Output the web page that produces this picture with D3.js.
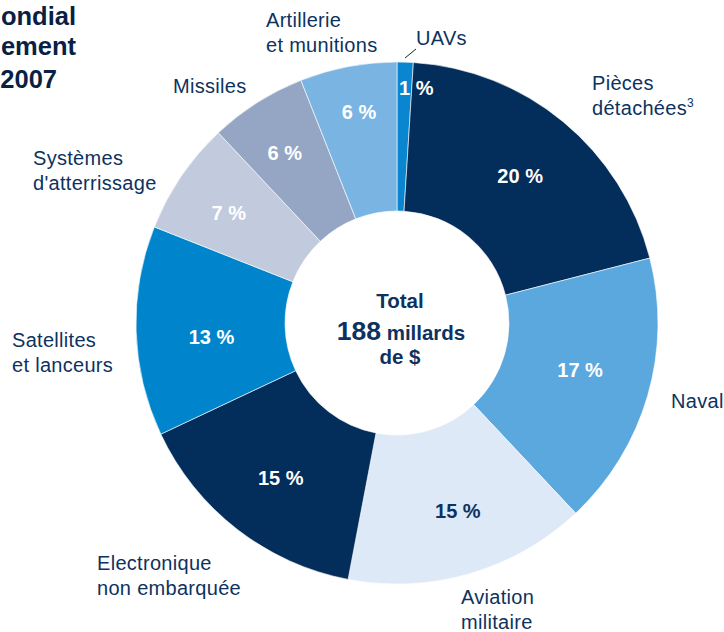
<!DOCTYPE html>
<html>
<head>
<meta charset="utf-8">
<script src="https://cdn.jsdelivr.net/npm/d3@7"></script>
<style>
  body { margin: 0; background: #fff; }
  svg { display: block; font-family: "Liberation Sans", Arial, sans-serif; }
</style>
</head>
<body>
<script>
// slices, clockwise from the top
const categories = ["UAVs", "Pièces détachées", "Naval", "Aviation militaire", "Electronique non embarquée",
  "Satellites et lanceurs", "Systèmes d'atterrissage", "Missiles", "Artillerie et munitions"];
const shares = [1, 20, 17, 15, 15, 13, 7, 6, 6];
const colors = ["#0a86d0", "#032d5a", "#5ba8df", "#dde9f6", "#032d5a", "#0085cc", "#c1cbdd", "#94a6c3", "#79b4e3"];
// outside labels (lines of text)
const labelLines = [
  ["UAVs"], ["Pièces", "détachées"], ["Naval"], ["Aviation", "militaire"], ["Electronique", "non embarquée"],
  ["Satellites", "et lanceurs"], ["Systèmes", "d'atterrissage"], ["Missiles"], ["Artillerie", "et munitions"]
];
const titleLines = ["ondial", "ement", "2007"];

// layout
const labelPos = [[416, 45], [592, 90], [671, 408], [461, 604], [97, 570], [12, 347], [33, 165], [173, 93], [266, 27]];
const pctRadius = [0, 192, 189, 198, 194, 186, 201, 204, 214];
const pctShift = [0, 0.3, -1.8, -1.7, -1, -2.5, -1, -1, 0.6]; // degrees
const pctColor = ["#fff", "#fff", "#fff", "#0d3260", "#fff", "#fff", "#fff", "#fff", "#fff"];

const width = 724, height = 632;
const cx = 397, cy = 323, outerR = 261, innerR = 112;
const navy = "#0d3260";

let svg = d3.select("body").append("svg")
  .attr("width", width)
  .attr("height", height);

// cut-off title at top-left
svg.selectAll("text.title")
  .data(titleLines)
  .enter().append("text")
  .attr("class", "title")
  .attr("x", (d, i) => i < 2 ? 76 : 57)
  .attr("y", (d, i) => [25, 55, 88][i])
  .attr("text-anchor", "end")
  .style("font-size", "25.5px")
  .style("font-weight", "bold")
  .style("fill", "#0a1f44")
  .text(d => d);

const data = categories.map((c, i) => ({ name: c, value: shares[i], color: colors[i] }));

const pie = d3.pie().value(d => d.value).sort(null);
const arc = d3.arc().innerRadius(innerR).outerRadius(outerR);

let g = svg.append("g").attr("transform", `translate(${cx},${cy})`);
const arcs = pie(data);

g.selectAll("path")
  .data(arcs)
  .enter().append("path")
  .attr("d", arc)
  .style("fill", d => d.data.color)
  .style("stroke", "#fff")
  .style("stroke-width", 0.6);

// percentages
g.selectAll("text.pct")
  .data(arcs)
  .enter().append("text")
  .attr("class", "pct")
  .attr("transform", (d, i) => {
    if (i === 0) return "translate(2,-235)";
    const a = (d.startAngle + d.endAngle) / 2 + pctShift[i] * Math.PI / 180;
    const r = pctRadius[i];
    return `translate(${r * Math.sin(a)},${-r * Math.cos(a)})`;
  })
  .attr("text-anchor", (d, i) => i === 0 ? "start" : "middle")
  .attr("dy", "0.35em")
  .style("font-size", "20px")
  .style("font-weight", "bold")
  .style("fill", (d, i) => pctColor[i])
  .text(d => d.data.value + " %");

// outside labels
const labels = svg.selectAll("text.lbl")
  .data(labelLines)
  .enter().append("text")
  .attr("class", "lbl")
  .attr("x", (d, i) => labelPos[i][0])
  .attr("y", (d, i) => labelPos[i][1])
  .style("font-size", "20px")
  .style("letter-spacing", "0.3px")
  .style("fill", navy);

labels.each(function (lines, i) {
  const t = d3.select(this);
  lines.forEach((line, j) => {
    t.append("tspan")
      .attr("x", labelPos[i][0])
      .attr("dy", j === 0 ? 0 : 24.5)
      .text(line);
  });
  if (i === 1) {
    t.append("tspan").attr("dy", -8).style("font-size", "12px").text("3");
  }
});

// leader line for UAVs
svg.append("line")
  .attr("x1", 405).attr("y1", 58)
  .attr("x2", 416).attr("y2", 49)
  .style("stroke", "#222")
  .style("stroke-width", 1);

// centre text
let centre = svg.append("g").style("fill", navy).style("font-weight", "bold").attr("text-anchor", "middle");
centre.append("text").attr("x", 400).attr("y", 308).style("font-size", "20.5px").text("Total");
let t2 = centre.append("text").attr("x", 401).attr("y", 340);
t2.append("tspan").style("font-size", "26.5px").text("188");
t2.append("tspan").style("font-size", "20.5px").text(" millards");
centre.append("text").attr("x", 400).attr("y", 364).style("font-size", "20.5px").text("de $");
</script>
</body>
</html>
